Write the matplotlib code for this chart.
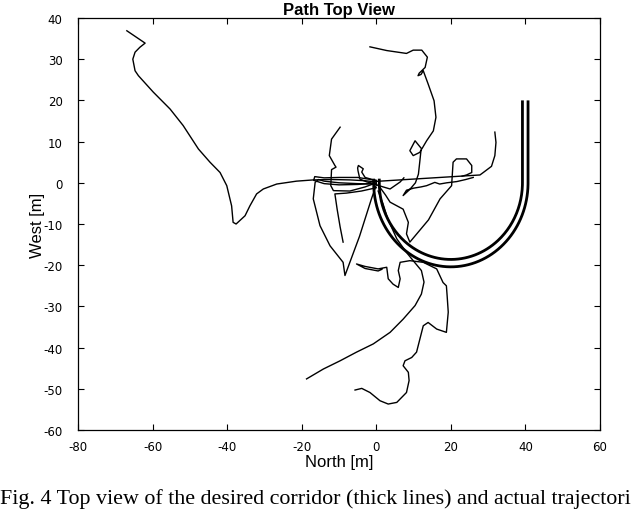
import numpy as np
import matplotlib
matplotlib.use("Agg")
import matplotlib.pyplot as plt

plt.rcParams['axes.unicode_minus'] = False

# ---------------- data (North = x, West = y, metres) ----------------
t1_x = [-66.9, -62.0, -63.4, -64.7, -65.3, -64.7, -63.8, -59.8, -55.3, -51.8, -47.7, -44.6,
        -41.9, -40.1, -38.8, -38.4, -37.6, -35.2, -33.9, -32.1, -30.3, -26.7, -21.4, -16.9,
        -12.0, -7.0, -3.0, 0.0]
t1_y = [36.9, 33.9, 32.9, 31.7, 30.0, 27.2, 26.0, 22.0, 17.9, 13.9, 8.2, 5.0,
        2.5, -0.7, -5.6, -9.6, -10.0, -8.0, -5.6, -2.7, -1.5, -0.3, 0.4, 0.7,
        0.8, 0.7, 0.5, 0.2]

t2_x = [-1.7, 2.8, 8.1, 9.9, 12.2, 13.7, 13.1, 11.5, 11.2, 12.0, 12.6, 13.9, 15.5, 16.0,
        15.3, 13.5, 12.2, 10.4, 9.0, 9.9, 11.7, 12.0, 11.7, 11.3, 10.5, 9.0, 7.2,
        8.1, 10.0, 12.0, 13.5, 15.7, 17.0, 18.9, 21.6, 24.0, 26.0]
t2_y = [33.0, 32.1, 31.4, 32.2, 32.2, 30.5, 28.0, 26.6, 26.0, 26.3, 27.2, 24.0, 19.9, 15.9,
        12.6, 10.2, 8.2, 10.2, 7.8, 6.6, 7.4, 8.0, 5.4, 2.1, 0.0, -1.6, -3.1,
        -1.8, -1.3, -1.0, -0.7, 0.1, -0.3, 0.0, 0.3, 0.8, 1.3]

t3_x = [-0.8, 27.8, 28.7, 30.9, 31.8, 32.1, 31.8]
t3_y = [0.3, 1.9, 2.5, 4.0, 6.6, 9.8, 12.3]

t4_x = [0.5, 2.5, 3.7, 7.2, 8.6, 8.1, 9.0, 14.0, 17.1, 20.2, 20.6, 21.5, 24.2, 25.6, 25.6, 24.2, 23.0]
t4_y = [-0.5, -3.0, -4.7, -6.4, -9.6, -12.4, -14.4, -9.0, -3.9, -0.7, 5.0, 5.8, 5.8, 4.2, 2.5, 1.9, 1.6]

t5_x = [0.0, -5.0, -10.0, -14.0, -15.5, -16.4, -16.9, -15.1, -12.4, -8.9, -8.4, -4.5, -1.3, 0.0]
t5_y = [-0.3, -0.2, 0.0, 0.4, 0.8, 0.1, -3.9, -10.4, -15.3, -19.3, -22.5, -13.0, -3.9, -0.5]

t6_x = [-9.7, -12.0, -12.6, -11.1, -10.8, -12.0, -12.2, -11.5, -7.1, -3.0, 0.0]
t6_y = [13.5, 10.6, 6.6, 4.2, 3.8, 3.2, -0.7, -1.9, -2.0, -1.0, 0.0]

t7_x = [0.0, -4.0, -8.0, -11.1, -10.5, -9.7, -8.9]
t7_y = [-1.2, -2.0, -2.5, -2.7, -6.4, -10.7, -14.4]

t8_x = [0.0, -3.0, -3.9, -3.5, -4.8, -5.0, -4.9, -4.4, -2.5, 0.0]
t8_y = [0.5, 1.3, 2.6, 3.4, 4.2, 3.6, 2.9, 0.9, 0.2, -0.3]

t9_x = [-18.7, -14.2, -9.7, -5.3, -0.8, 3.7, 7.2, 10.4, 12.1, 12.8, 12.1, 9.9, 8.1, 5.5,
        3.7, 2.8, 1.8, 0.5]
t9_y = [-47.6, -45.2, -43.2, -41.1, -39.1, -36.3, -33.1, -29.8, -27.0, -24.1, -21.3, -18.9, -16.9, -13.6,
        -10.0, -8.0, -5.1, -2.0]

t10_x = [-5.7, -3.9, -1.7, 1.0, 3.2, 5.5, 8.1, 8.8, 8.6, 7.2, 7.7, 9.5, 10.8, 11.7, 12.6, 13.9,
         16.2, 18.8, 19.3, 19.0, 18.8, 17.9, 16.2, 12.6, 9.0, 6.4, 5.9, 6.4, 5.9, 4.5, 3.2, 2.8,
         0.5, -3.0, -5.3, -3.0, 0.5, 1.5]
t10_y = [-50.3, -49.9, -50.9, -52.9, -53.7, -53.3, -50.9, -48.0, -46.0, -44.4, -43.2, -42.4, -41.1, -37.9, -34.7, -33.9,
         -35.5, -36.3, -31.4, -27.4, -25.0, -24.2, -20.9, -19.3, -18.9, -19.3, -21.3, -23.3, -25.4, -24.6, -23.3, -20.5,
         -20.9, -20.3, -19.7, -20.8, -21.4, -21.0]

t11_x = [0.0, -5.0, -10.0, -14.0, -16.5, -16.8, -14.0, -10.0, -5.0, 0.0]
t11_y = [0.6, 1.3, 1.3, 1.2, 1.5, 0.6, -0.2, -0.5, -0.4, -0.1]

t12_x = [0.0, 3.7, 6.4, 7.4]
t12_y = [-0.5, -1.5, 0.2, 1.2]

trajectories = [(t1_x, t1_y), (t2_x, t2_y), (t3_x, t3_y), (t4_x, t4_y), (t5_x, t5_y),
                (t6_x, t6_y), (t7_x, t7_y), (t8_x, t8_y), (t9_x, t9_y), (t10_x, t10_y),
                (t11_x, t11_y), (t12_x, t12_y)]

# desired corridor: U-turn, centre and two boundary radii, leg ends
corr_center = (20.0, 0.0)
corr_inner = (19.2, 18.6)
corr_outer = (20.7, 20.4)
corr_top = 20.0
corr_left_top = 1.0

x_ticks = [-80, -60, -40, -20, 0, 20, 40, 60]
y_ticks = [-60, -50, -40, -30, -20, -10, 0, 10, 20, 30, 40]

caption = 'Fig. 4 Top view of the desired corridor (thick lines) and actual trajectori'

# ---------------- figure ----------------
fig = plt.figure(figsize=(6.4, 5.1), dpi=100)
ax = fig.add_axes([78 / 640, 1 - 431 / 510, 522 / 640, 412 / 510])

for tx, ty in trajectories:
    ax.plot(tx, ty, color='black', lw=1.0, solid_joinstyle='round')

th = np.linspace(np.pi, 2 * np.pi, 200)
for rx, ry in (corr_inner, corr_outer):
    cx = corr_center[0] + rx * np.cos(th)
    cy = corr_center[1] + ry * np.sin(th)
    cx = np.concatenate([[cx[0]], cx, [cx[-1]]])
    cy = np.concatenate([[corr_left_top], cy, [corr_top]])
    ax.plot(cx, cy, color='black', lw=2.0, solid_capstyle='butt', zorder=3)

ax.set_xlim(-80, 60)
ax.set_ylim(-60, 40)
ax.set_xticks(x_ticks)
ax.set_yticks(y_ticks)
ax.tick_params(direction='in', length=4.5, width=0.8, top=True, right=True,
               labelsize=8.5, colors='black')
ax.tick_params(axis='x', pad=7)
ax.tick_params(axis='y', pad=11)
for s in ax.spines.values():
    s.set_linewidth(0.9)

ax.set_xlabel('North [m]', family='Liberation Sans', fontsize=12, labelpad=1)
ax.set_ylabel('West [m]', family='Liberation Sans', fontsize=12, labelpad=-1)
ax.set_title('Path Top View', family='Liberation Sans', fontweight='bold', fontsize=12, pad=3)

fig.text(0.0, 1 - 509 / 510, caption,
         family='Liberation Serif', fontsize=15.8, va='bottom', ha='left')

fig.savefig('out.png', dpi=100)
